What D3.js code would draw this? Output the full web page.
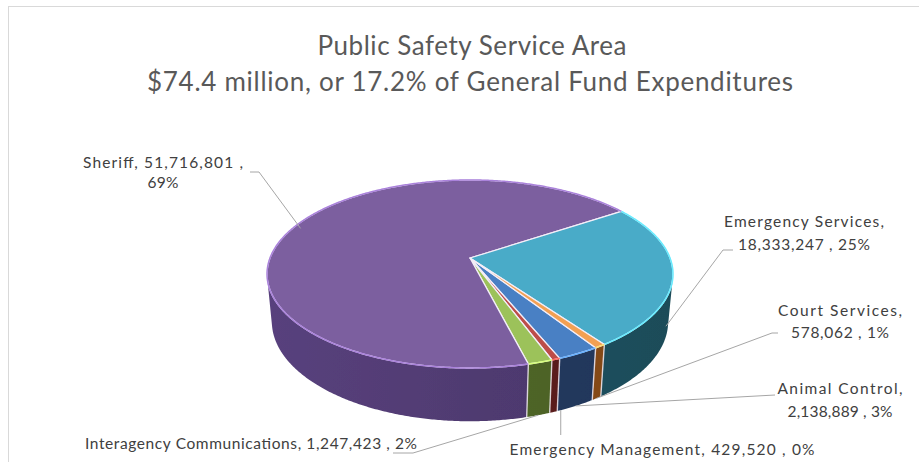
<!DOCTYPE html>
<html>
<head>
<meta charset="utf-8">
<script src="https://cdn.jsdelivr.net/npm/d3@7"></script>
<style>
  html, body { margin: 0; padding: 0; background: #fff; overflow: hidden; }
  text { font-family: Lato, "Open Sans", sans-serif; }
</style>
</head>
<body>
<svg id="chart" width="919" height="462"></svg>
<script>
// ---- data ----
const categories = ["Animal Control", "Emergency Management", "Interagency Communications",
                    "Sheriff", "Emergency Services", "Court Services"];
const amounts = [2138889, 429520, 1247423, 51716801, 18333247, 578062];
const percentLabels = ["3%", "0%", "2%", "69%", "25%", "1%"];
const titleLines = ["Public Safety Service Area",
                    "$74.4 million, or 17.2% of General Fund Expenditures"];

// ---- styling ----
const topColors  = ["#4a80c4", "#bd4d48", "#9cc25a", "#7b5e9f", "#4aabc8", "#f2a052"];
const sideColors = ["#22395f", "#5c1e1c", "#4f6627", "#4f3a70", "#1f5260", "#8a4c1a"];

// label placement: text anchor, line split, leader points near the text,
// and where the leader meets the pie (angle shift in degrees, radius, depth 0=top..1=bottom)
const labelLayout = [
  { x: 840, y: 394, dy: 23, split: "afterName", width: [125, 105],
    leader: [[775, 395]], anchor: { dPhi: 0, r: 1, depth: 1 } },
  { x: 662, y: 455, dy: 0, split: "none", width: [305],
    leader: [[null, 435]], anchor: { dPhi: -2, r: 1, depth: 1 }, vertical: true },
  { x: 251, y: 449, dy: 0, split: "none", width: [332],
    leader: [[393, 453], [413, 453]], anchor: { dPhi: 0, r: 1, depth: 1 } },
  { x: 163, y: 168, dy: 20, split: "beforePct", width: [160, 31],
    leader: [[250, 172], [259, 172]], anchor: { dPhi: 0, r: 0.96, depth: 0 } },
  { x: 804, y: 227, dy: 23, split: "afterName", width: [160, 132],
    leader: [[733, 250], [723, 250]], anchor: { dPhi: 10, r: 1, depth: 0.7 } },
  { x: 840, y: 316, dy: 22, split: "afterName", width: [124, 98],
    leader: [[778, 333], [772, 333]], anchor: { dPhi: 0, r: 1, depth: 1 } }
];

// ---- 3D pie projection ----
const cx = 470, cy = 258, k = 200;       // centre and radius in px
const thickness = 0.27;                   // wall height relative to radius
const camDist = 5.23;                     // perspective distance relative to radius
const elev = Math.asin(0.4564);
const sa = Math.sin(elev), ca = Math.cos(elev);
const firstSliceAngle = 147.45;           // degrees clockwise from 12 o'clock

function project(phi, r, depth) {
  const X = r * Math.cos(phi), Z = r * Math.sin(phi), Y = -depth * thickness;
  const u = Y * ca - Z * sa, w = Y * sa + Z * ca, s = camDist / (camDist - w);
  return [cx + k * X * s, cy - k * u * s];
}
const rad = d => d * Math.PI / 180;
function arcPts(p0, p1, r, depth) {
  const n = Math.max(2, Math.ceil(Math.abs(p1 - p0) / rad(0.5)));
  return d3.range(n + 1).map(i => project(p0 + (p1 - p0) * i / n, r, depth));
}

const svg = d3.select("#chart");
const defs = svg.append("defs");
defs.append("filter").attr("id", "soft")
  .append("feGaussianBlur").attr("stdDeviation", 0.6);

// chart area border
svg.append("rect").attr("x", 8.5).attr("y", 6.5).attr("width", 940).attr("height", 480)
  .attr("fill", "#fff").attr("stroke", "#d9d9d9").attr("stroke-width", 1);

// title
const title = svg.append("g").attr("fill", "#595959").attr("font-size", 26);
title.append("text").attr("x", 472).attr("y", 55).attr("text-anchor", "middle")
  .attr("textLength", 309).attr("lengthAdjust", "spacing").text(titleLines[0]);
title.append("text").attr("x", 470).attr("y", 91).attr("text-anchor", "middle")
  .attr("textLength", 646).attr("lengthAdjust", "spacing").text(titleLines[1]);

// slice angles (phi measured clockwise from 3 o'clock, in the disc plane)
const pie = d3.pie().sort(null)
  .startAngle(rad(firstSliceAngle)).endAngle(rad(firstSliceAngle) + 2 * Math.PI);
const slices = pie(amounts).map((d, i) => ({
  i, p0: d.startAngle - Math.PI / 2, p1: d.endAngle - Math.PI / 2
}));

// visible range of the outer wall under perspective
const vis = Math.asin(1 / (camDist * ca));
const vis0 = vis, vis1 = Math.PI - vis;

const line = d3.line().curve(d3.curveLinearClosed);
const pieG = svg.append("g").attr("filter", "url(#soft)");

// walls
slices.forEach(s => {
  const g = defs.append("linearGradient").attr("id", "side" + s.i)
    .attr("gradientUnits", "userSpaceOnUse")
    .attr("x1", cx - k).attr("x2", cx + k).attr("y1", 0).attr("y2", 0);
  const c = d3.color(sideColors[s.i]);
  g.append("stop").attr("offset", 0).attr("stop-color", c.brighter(0.3));
  g.append("stop").attr("offset", 0.55).attr("stop-color", c);
  g.append("stop").attr("offset", 1).attr("stop-color", c.darker(0.2));
  [0, -2 * Math.PI].forEach(shift => {
    const a = Math.max(s.p0 + shift, vis0), b = Math.min(s.p1 + shift, vis1);
    if (b > a) {
      const pts = arcPts(a, b, 1, 0).concat(arcPts(b, a, 1, 1));
      pieG.append("path").attr("d", line(pts)).attr("fill", "url(#side" + s.i + ")");
    }
  });
});
// wall seams
slices.forEach(s => {
  [s.p0, s.p0 - 2 * Math.PI].forEach(p => {
    if (p > vis0 && p < vis1) {
      pieG.append("line")
        .attr("x1", project(p, 1, 0)[0]).attr("y1", project(p, 1, 0)[1])
        .attr("x2", project(p, 1, 1)[0]).attr("y2", project(p, 1, 1)[1])
        .attr("stroke", "#f4eef6").attr("stroke-opacity", 0.8).attr("stroke-width", 1.4);
    }
  });
});

// top faces
const apex = project(0, 0, 0);
slices.forEach(s => {
  const pts = [apex].concat(arcPts(s.p0, s.p1, 1, 0));
  pieG.append("path").attr("d", line(pts)).attr("fill", topColors[s.i])
    .attr("stroke", "#f3eef8").attr("stroke-width", 1.3).attr("stroke-linejoin", "round");
});
// rim highlight on the top edge
slices.forEach(s => {
  pieG.append("path").attr("d", d3.line()(arcPts(s.p0, s.p1, 1, 0)))
    .attr("fill", "none").attr("stroke", d3.color(topColors[s.i]).brighter(0.9))
    .attr("stroke-width", 1.5);
});

// labels and leader lines
const fmt = d3.format(",");
const labels = svg.append("g").attr("fill", "#404040").attr("font-size", 15.5);
const leaders = svg.append("g").attr("fill", "none").attr("stroke", "#a6a6a6").attr("stroke-width", 1);

slices.forEach(s => {
  const L = labelLayout[s.i];
  const name = categories[s.i], val = fmt(amounts[s.i]), pct = percentLabels[s.i];
  let lines;
  if (L.split === "afterName") lines = [name + ",", val + " , " + pct];
  else if (L.split === "beforePct") lines = [name + ", " + val + " ,", pct];
  else lines = [name + ", " + val + " , " + pct];
  lines.forEach((t, j) => {
    labels.append("text").attr("x", L.x).attr("y", L.y + j * L.dy)
      .attr("text-anchor", "middle")
      .attr("textLength", L.width[j]).attr("lengthAdjust", "spacing").text(t);
  });
  const mid = (s.p0 + s.p1) / 2 + rad(L.anchor.dPhi);
  const end = project(mid, L.anchor.r, L.anchor.depth);
  const pts = L.leader.map(p => [p[0] === null ? end[0] : p[0], p[1]]);
  pts.push(end);
  leaders.append("path").attr("d", d3.line()(pts));
});
</script>
</body>
</html>
